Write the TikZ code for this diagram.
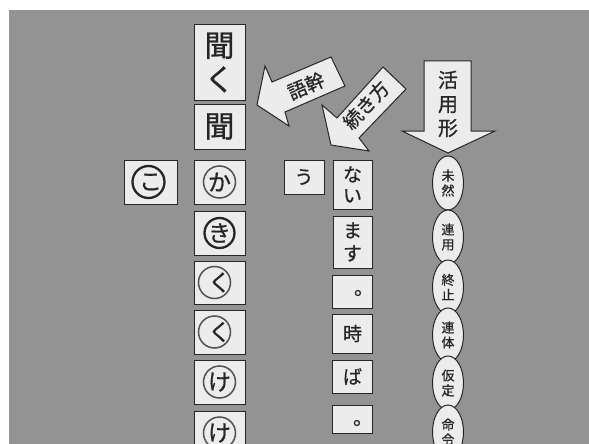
\documentclass[tikz,border=0pt]{standalone}
\usepackage{fontspec}
\newfontfamily\jp[FakeBold=0.8]{Noto Sans CJK JP}
\usetikzlibrary{shapes.geometric}
\definecolor{bg}{HTML}{939393}
\definecolor{paper}{HTML}{ECECEC}
\definecolor{ink}{HTML}{262626}
\begin{document}
\begin{tikzpicture}[x=1pt,y=-1pt,
  box/.style={draw=ink, line width=1pt, fill=paper, inner sep=0pt, text=ink},
  ring/.style={draw=ink!80, line width=1.5pt},
  boldring/.style={draw=ink, line width=2.3pt},
  blockarrow/.style={draw=ink, line width=1pt, fill=paper, line join=miter},
  form/.style={ellipse, draw=ink, line width=1pt, fill=paper, minimum width=31pt,
    minimum height=54pt, inner sep=0pt, align=center, text=ink,
    font=\jp\fontsize{13}{15}\selectfont},
  big/.style={font=\jp\fontsize{30}{34}\selectfont, align=center},
  circ/.style={font=\jp\fontsize{23}{23}\selectfont},
  mid/.style={font=\jp\fontsize{19}{21}\selectfont, align=center},
  lbl/.style={text=ink, inner sep=0pt},
]
\path[use as bounding box] (0,0) rectangle (589,444);
\clip (0,0) rectangle (589,444);
\fill[white] (0,0) rectangle (589,444);
\fill[bg] (9,10) rectangle (589,444);

% block arrows
\draw[blockarrow] (257,105) -- (265,66) -- (272,82) -- (331,57) -- (345,86)
  -- (285,112) -- (289,126) -- cycle;
\node[lbl, rotate=23.2, font=\jp\fontsize{19}{19}\selectfont] (gokan) at (306,86) {語幹};

\draw[blockarrow] (331,145) -- (322,105) -- (337,118) -- (383,67) -- (406,89)
  -- (359,138) -- (369,151) -- cycle;
\node[lbl, rotate=47, font=\jp\fontsize{19}{19}\selectfont] (tsuzuki) at (366,105) {続き方};

\draw[blockarrow] (424,61) -- (471,61) -- (471,131) -- (495,131) -- (448,153)
  -- (402,131) -- (424,131) -- cycle;
\node[lbl, align=center, font=\jp\fontsize{20}{24}\selectfont] (katsuyo) at (448,104) {活\\用\\形};

% conjugation forms
\node[form] (f1) at (448,183) {未\\然};
\node[form] (f2) at (448,237) {連\\用};
\node[form] (f3) at (448,287) {終\\止};
\node[form] (f4) at (448,335) {連\\体};
\node[form] (f5) at (448,383) {仮\\定};
\node[form] (f6) at (448,432) {命\\令};

% column of 聞く
\node[box, big, minimum width=51pt, minimum height=75pt] (kiku) at (219.5,62.5) {聞\\く};
\node[box, big, minimum width=51pt, minimum height=45pt] (ki) at (219.5,126.5) {聞};
\node[box, circ, minimum width=51pt, minimum height=44pt] (c1) at (219.5,182) {か};
\node[box, circ, minimum width=51pt, minimum height=44pt] (c2) at (219.5,233) {き};
\node[box, circ, minimum width=51pt, minimum height=43pt] (c3) at (219.5,282.5) {く};
\node[box, circ, minimum width=51pt, minimum height=44pt] (c4) at (219.5,332) {く};
\node[box, circ, minimum width=51pt, minimum height=44pt] (c5) at (219.5,382) {け};
\node[box, circ, minimum width=51pt, minimum height=44pt] (c6) at (219.5,433) {け};
\draw[ring] (c1.center) circle[radius=16pt];
\draw[boldring] (c2.center) circle[radius=15pt];
\draw[ring] ([xshift=-5pt]c3.center) circle[radius=16pt];
\draw[ring] ([xshift=-5pt]c4.center) circle[radius=16pt];
\draw[ring] (c5.center) circle[radius=16pt];
\draw[ring] (c6.center) circle[radius=16pt];

\node[box, circ, minimum width=53pt, minimum height=44pt] (ko) at (150.5,182) {こ};
\draw[boldring] ([xshift=-2pt]ko.center) circle[radius=16pt];

% endings
\node[box, mid, minimum width=40pt, minimum height=34pt] (u) at (304,177) {う};
\node[box, mid, minimum width=39pt, minimum height=49pt] (nai) at (352.5,184.5) {な\\い};
\node[box, minimum width=39pt, minimum height=52pt, align=center,
  font=\jp\fontsize{19}{23}\selectfont] (masu) at (352.5,242) {ま\\す};
\node[box, minimum width=40pt, minimum height=33pt] (p1) at (352,291.5) {};
\node[lbl, font=\jp\fontsize{20}{20}\selectfont] (p1t) at (364,293) {。};
\node[box, mid, minimum width=40pt, minimum height=39pt] (toki) at (352.5,333.5) {時};
\node[box, mid, minimum width=40pt, minimum height=33pt] (ba) at (352.5,376.5) {ば};
\node[box, minimum width=40pt, minimum height=28pt] (p2) at (352.5,419) {};
\node[lbl, font=\jp\fontsize{20}{20}\selectfont] (p2t) at (363,423) {。};
\end{tikzpicture}
\end{document}
